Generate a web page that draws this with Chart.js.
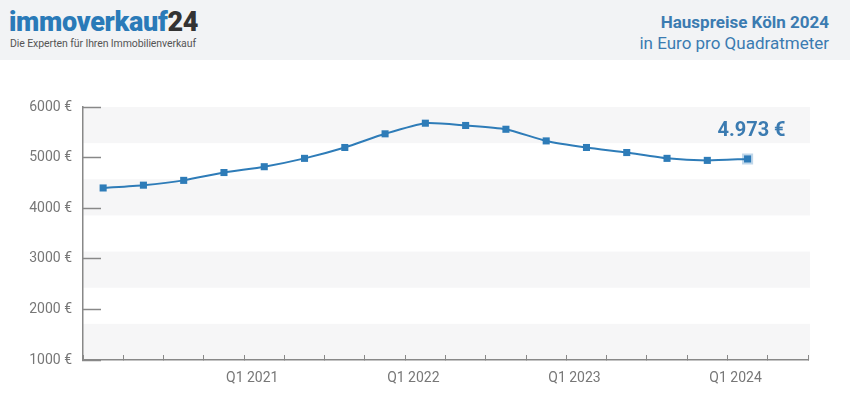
<!DOCTYPE html>
<html>
<head>
<meta charset="utf-8">
<script src="https://cdn.jsdelivr.net/npm/chart.js@4/dist/chart.umd.min.js"></script>
<style>
  html, body { margin: 0; padding: 0; background: #fff; }
  body { width: 850px; height: 417px; position: relative; overflow: hidden; font-family: Roboto, sans-serif; }
  #head { position: absolute; left: 0; top: 0; width: 850px; height: 60px; background: #f2f3f5; z-index: 2; }
  #logo { position: absolute; left: 9px; top: 6px; font-size: 27px; font-weight: 900; color: #2a7ab8; letter-spacing: -0.3px; }
  #logo span { color: #333; }
  #claim { position: absolute; left: 10px; top: 37px; font-size: 10.5px; color: #555; letter-spacing: -0.1px; }
  #title { position: absolute; right: 21px; top: 12px; font-size: 17px; font-weight: 700; color: #3b7bb1; text-align: right; }
  #sub { position: absolute; right: 21px; top: 33px; font-size: 17px; color: #3b7bb1; text-align: right; }
  #wrap { position: absolute; left: 0; top: 0; width: 850px; height: 417px; }
</style>
</head>
<body>
<div id="head">
  <div id="logo">immoverkauf<span>24</span></div>
  <div id="claim">Die Experten für Ihren Immobilienverkauf</div>
  <div id="title">Hauspreise Köln 2024</div>
  <div id="sub">in Euro pro Quadratmeter</div>
</div>
<div id="wrap"><canvas id="myChart" width="850" height="417"></canvas></div>
<script>
const ctx = document.getElementById('myChart');

// quarters, Q1 2020 .. Q2 2024 (last slot stays empty)
const quarters = [
  'Q1 2020', 'Q2 2020', 'Q3 2020', 'Q4 2020',
  'Q1 2021', 'Q2 2021', 'Q3 2021', 'Q4 2021',
  'Q1 2022', 'Q2 2022', 'Q3 2022', 'Q4 2022',
  'Q1 2023', 'Q2 2023', 'Q3 2023', 'Q4 2023',
  'Q1 2024', 'Q2 2024'
];
const prices = [4400, 4455, 4550, 4705, 4820, 4985, 5200, 5470, 5680, 5635, 5560, 5330, 5200, 5100, 4985, 4945, 4973];
const shownTicks = ['Q1 2021', 'Q1 2022', 'Q1 2023', 'Q1 2024'];
const yTicks = [1000, 2000, 3000, 4000, 5000, 6000];

const blue = '#2e7cb8';
const last = prices.length - 1;

// grey stripes behind the plot
const stripes = {
  id: 'stripes',
  beforeDraw(chart) {
    const { ctx, chartArea: a, scales: { y } } = chart;
    const step = (y.max - y.min) / 7;
    ctx.save();
    ctx.fillStyle = '#f6f6f7';
    for (let k = 0; k < 7; k += 2) {
      const top = y.getPixelForValue(y.max - k * step);
      const bot = y.getPixelForValue(y.max - (k + 1) * step);
      ctx.fillRect(a.left, top, a.right - a.left + 2, bot - top);
    }
    ctx.restore();
  }
};

// value label of the latest quarter
const lastLabel = {
  id: 'lastLabel',
  afterDatasetsDraw(chart) {
    const p = chart.getDatasetMeta(0).data[last];
    const c = chart.ctx;
    c.save();
    c.font = 'bold 20px Roboto';
    c.fillStyle = '#3b7bb1';
    c.textAlign = 'right';
    c.textBaseline = 'middle';
    c.fillText(prices[last].toLocaleString('de-DE') + ' €', p.x + 38, p.y - 28);
    c.restore();
  }
};

new Chart(ctx, {
  type: 'line',
  data: {
    labels: quarters,
    datasets: [{
      data: prices,
      borderColor: blue,
      borderWidth: 2,
      tension: 0.2,
      pointStyle: 'rect',
      pointRadius: 5,
      pointBackgroundColor: blue,
      pointBorderColor: prices.map((v, i) => i === last ? 'rgba(46,124,184,0.3)' : blue),
      pointBorderWidth: prices.map((v, i) => i === last ? 4 : 0),
    }]
  },
  options: {
    responsive: false,
    animation: false,
    layout: { padding: { top: 107, right: 42, left: 0, bottom: 0 } },
    scales: {
      x: {
        offset: true,
        afterFit: s => { s.height = 57; },
        border: { color: '#888', width: 1.5 },
        grid: { offset: true, drawOnChartArea: false, color: '#888', tickLength: -5, tickWidth: 1 },
        ticks: {
          autoSkip: false,
          maxRotation: 0,
          padding: 15,
          labelOffset: -12,
          color: '#777',
          font: { family: 'Roboto', size: 14 },
          callback: function (v) {
            const l = this.getLabelForValue(v);
            return shownTicks.includes(l) ? l : '';
          }
        }
      },
      y: {
        min: 1000,
        max: 6000,
        afterFit: s => { s.width = 83; },
        afterBuildTicks: s => { s.ticks = yTicks.map(v => ({ value: v })); },
        border: { color: '#888', width: 1.5 },
        grid: { drawOnChartArea: false, color: '#888', tickLength: -18, tickWidth: 1.5 },
        ticks: {
          padding: 29,
          color: '#777',
          font: { family: 'Roboto', size: 14 },
          callback: v => v + ' €'
        }
      }
    },
    plugins: {
      legend: { display: false },
      tooltip: { enabled: false }
    }
  },
  plugins: [stripes, lastLabel]
});
</script>
</body>
</html>
